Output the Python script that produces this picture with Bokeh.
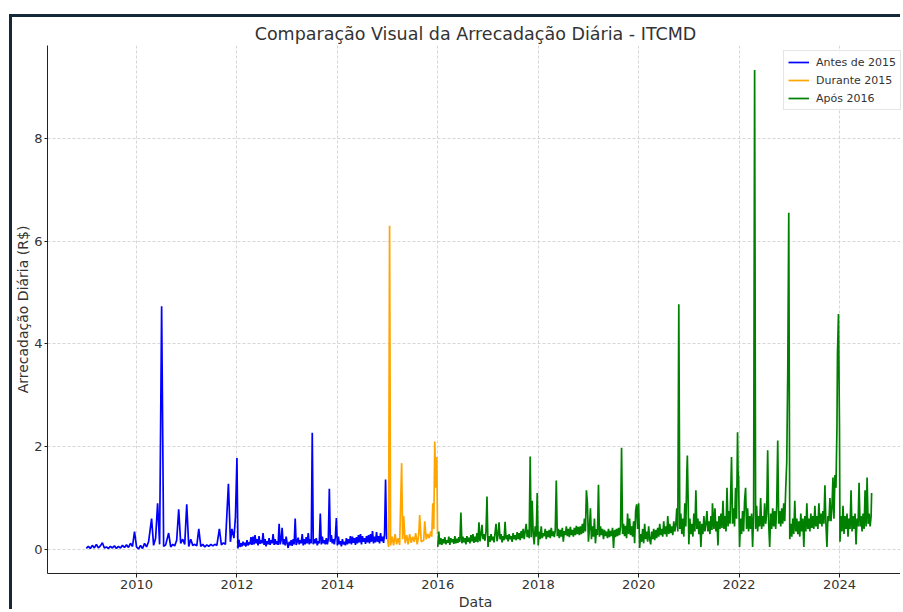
from bokeh.plotting import figure
from bokeh.models import FixedTicker, Label, Legend, LegendItem, Range1d
from bokeh.embed import file_html
from bokeh.resources import INLINE

# ---------------- data (values in R$ millions, dates as decimal years) ----------------
# "Antes de 2015", 2009 - 2011
antes_dates_a = [
    2009.00, 2009.04, 2009.08, 2009.12, 2009.16, 2009.20, 2009.24, 2009.28, 2009.32, 2009.36,
    2009.40, 2009.44, 2009.48, 2009.52, 2009.56, 2009.60, 2009.64, 2009.68, 2009.72, 2009.76,
    2009.80, 2009.84, 2009.88, 2009.92, 2009.96, 2010.00, 2010.04, 2010.08, 2010.12, 2010.16,
    2010.20, 2010.24, 2010.30, 2010.34, 2010.38, 2010.42, 2010.46, 2010.50, 2010.54, 2010.58,
    2010.64, 2010.68, 2010.72, 2010.76, 2010.80, 2010.84, 2010.88, 2010.92, 2010.96, 2011.00,
    2011.04, 2011.08, 2011.12, 2011.16, 2011.20, 2011.24, 2011.28, 2011.32, 2011.36, 2011.40,
    2011.44, 2011.48, 2011.52, 2011.56, 2011.60, 2011.65, 2011.69, 2011.73, 2011.77, 2011.83,
    2011.87, 2011.90, 2011.94, 2011.97,
]
antes_values_a = [
    0.2, 0.6, 0.2, 0.8, 0.3, 1.0, 0.3, 0.7, 1.3, 0.3,
    0.5, 0.2, 0.6, 0.3, 0.7, 0.2, 0.6, 0.3, 0.8, 0.4,
    0.9, 0.4, 1.2, 0.6, 3.5, 0.5, 0.1, 0.8, 0.2, 1.2,
    0.5, 1.5, 6.0, 0.8, 2.2, 9.0, 1.0, 47.3, 0.6, 0.9,
    3.2, 0.5, 1.0, 0.7, 1.8, 7.8, 1.2, 2.0, 1.0, 8.8,
    0.6, 2.0, 0.8, 1.0, 0.7, 4.0, 0.6, 1.0, 0.5, 0.9,
    0.6, 1.0, 0.7, 1.0, 0.8, 4.0, 0.9, 1.3, 1.0, 12.8,
    1.5, 4.0, 2.2, 6.3,
]
# "Antes de 2015", 2012 - 2014, one reading every 0.02 year from 2012.00
antes_start_b, antes_step_b = 2012.0, 0.02
antes_values_b = [
    17.8, 0.2, 1.9, 0.5, 1.2, 0.6, 1.5, 0.8, 1.3, 0.6,
    1.8, 0.8, 1.4, 1.0, 2.4, 0.9, 2.5, 1.0, 2.8, 1.2,
    2.0, 0.8, 2.6, 1.1, 1.8, 1.2, 3.2, 0.9, 2.0, 0.6,
    1.6, 1.0, 2.2, 0.9, 1.8, 1.2, 3.0, 0.9, 2.0, 1.0,
    1.6, 0.9, 5.0, 1.0, 1.8, 4.2, 1.0, 2.0, 0.8, 2.5,
    1.2, 0.3, 1.5, 0.8, 1.8, 0.7, 2.0, 1.0, 6.0, 0.9,
    1.5, 2.3, 1.0, 1.8, 1.2, 3.0, 0.8, 2.0, 1.0, 2.4,
    1.2, 3.2, 1.0, 2.0, 1.2, 22.7, 1.0, 2.0, 1.2, 2.2,
    0.8, 1.6, 1.2, 7.0, 1.0, 2.5, 1.2, 1.8, 1.0, 2.2,
    1.0, 2.0, 11.8, 1.5, 2.8, 1.2, 2.0, 1.0, 2.4, 6.1,
    0.8, 2.5, 1.0, 1.6, 0.6, 2.0, 1.0, 1.5, 0.8, 2.2,
    1.0, 2.0, 1.2, 2.6, 1.0, 2.5, 1.3, 2.2, 0.9, 2.4,
    1.2, 2.8, 1.4, 3.0, 1.0, 2.6, 1.5, 2.2, 1.1, 2.6,
    1.4, 2.8, 1.2, 3.0, 1.5, 3.6, 1.2, 2.5, 1.4, 3.4,
    1.5, 2.6, 1.2, 3.2, 1.6, 2.5, 1.3, 3.0, 13.6, 2.0,
]

durante_dates = [
    2015.00, 2015.02, 2015.04, 2015.06, 2015.09, 2015.12, 2015.15, 2015.18, 2015.21, 2015.24,
    2015.28, 2015.30, 2015.32, 2015.35, 2015.38, 2015.41, 2015.44, 2015.47, 2015.50, 2015.53,
    2015.56, 2015.59, 2015.62, 2015.64, 2015.67, 2015.72, 2015.74, 2015.77, 2015.80, 2015.83,
    2015.86, 2015.88, 2015.90, 2015.92, 2015.94, 2015.96, 2015.98, 2015.995,
]
durante_values = [
    2.0, 0.5, 63.0, 0.8, 2.5, 0.8, 3.0, 1.0, 2.2, 0.9,
    16.8, 2.0, 6.5, 1.2, 2.8, 1.0, 3.0, 1.3, 2.5, 1.5,
    3.2, 1.0, 2.8, 6.7, 1.5, 1.8, 5.5, 2.0, 3.0, 2.2,
    3.5, 2.5, 9.0, 4.0, 21.0, 12.0, 18.0, 3.0,
]

# "Após 2016", 2016 - 2019, one reading every 0.02 year from 2016.00
apos_start_a, apos_step_a = 2016.0, 0.02
apos_values_a = [
    0.5, 3.5, 1.0, 2.2, 0.9, 2.0, 1.2, 2.4, 1.0, 1.8,
    1.3, 2.5, 0.9, 2.2, 1.4, 2.0, 1.1, 2.6, 1.2, 2.1,
    1.3, 2.4, 1.5, 7.2, 1.2, 2.5, 1.4, 2.2, 1.0, 2.6,
    1.5, 2.3, 1.2, 2.8, 1.6, 3.0, 1.3, 2.5, 1.5, 3.2,
    1.4, 5.3, 1.6, 2.8, 4.8, 2.0, 3.0, 1.7, 3.5, 10.3,
    0.5, 2.6, 1.5, 3.0, 1.8, 2.5, 1.4, 3.2, 5.0, 1.6,
    2.8, 5.3, 2.0, 3.0, 1.4, 2.6, 1.8, 5.4, 2.0, 2.8,
    1.6, 3.0, 2.0, 2.6, 1.5, 3.2, 2.0, 2.8, 1.8, 3.4,
    2.0, 3.2, 1.8, 3.6, 2.2, 4.0, 2.0, 3.5, 5.0, 2.4,
    3.8, 2.2, 18.1, 2.4, 9.5, 3.0, 1.0, 4.5, 2.5, 11.0,
    0.8, 3.5, 2.0, 4.5, 2.2, 3.2, 2.6, 4.0, 2.0, 3.6,
    2.4, 3.8, 2.2, 4.2, 2.6, 3.5, 2.4, 3.8, 13.4, 2.6,
    4.0, 2.2, 3.8, 2.5, 4.2, 1.5, 3.6, 2.8, 4.5, 2.6,
    4.0, 2.4, 4.4, 2.8, 3.8, 2.5, 4.2, 2.8, 4.6, 3.0,
    4.4, 2.8, 4.5, 3.0, 5.0, 3.2, 6.0, 3.5, 11.5, 9.0,
    1.5, 4.0, 8.0, 2.0, 4.5, 2.5, 6.0, 1.2, 4.0, 2.8,
    12.6, 2.5, 4.5, 2.8, 4.0, 2.0, 3.8, 2.6, 3.5, 2.2,
    4.0, 2.4, 3.6, 2.6, 4.2, 0.3, 3.8, 2.4, 4.0, 2.6,
    4.2, 2.8, 4.5, 19.8, 3.0, 5.0, 2.6, 4.6, 2.2, 7.0,
    3.0, 6.0, 2.8, 4.5, 2.5, 5.5, 1.2, 7.5, 8.8, 4.0,
]

# "Após 2016", 2020 - 2024
apos_dates_b = [
    2020.00, 2020.02, 2020.04, 2020.06, 2020.08, 2020.10, 2020.12, 2020.14, 2020.16, 2020.18,
    2020.20, 2020.22, 2020.24, 2020.26, 2020.28, 2020.30, 2020.32, 2020.34, 2020.36, 2020.38,
    2020.40, 2020.42, 2020.44, 2020.46, 2020.48, 2020.50, 2020.52, 2020.54, 2020.56, 2020.58,
    2020.60, 2020.62, 2020.64, 2020.66, 2020.68, 2020.70, 2020.72, 2020.74, 2020.76, 2020.78,
    2020.80, 2020.82, 2020.84, 2020.86, 2020.88, 2020.90, 2020.92, 2020.94, 2020.96, 2020.97,
    2020.98, 2021.00,
    2021.02, 2021.04, 2021.06, 2021.08, 2021.10, 2021.12, 2021.14, 2021.16, 2021.18, 2021.20,
    2021.22, 2021.24, 2021.26, 2021.28, 2021.30, 2021.32, 2021.34, 2021.36, 2021.38, 2021.40,
    2021.42, 2021.44, 2021.46, 2021.47, 2021.50, 2021.52, 2021.54, 2021.56, 2021.58, 2021.60,
    2021.62, 2021.64, 2021.66, 2021.68, 2021.70, 2021.72, 2021.74, 2021.76, 2021.78, 2021.80,
    2021.82, 2021.85, 2021.87, 2021.89, 2021.91, 2021.93, 2021.95, 2021.97, 2021.98, 2021.99,
    2022.01, 2022.03, 2022.05, 2022.07, 2022.09, 2022.11, 2022.13, 2022.15, 2022.17, 2022.19,
    2022.21, 2022.23, 2022.25, 2022.27, 2022.29, 2022.31, 2022.33, 2022.35, 2022.37, 2022.39,
    2022.41, 2022.43, 2022.45, 2022.47, 2022.49, 2022.51, 2022.53, 2022.55, 2022.57, 2022.59,
    2022.61, 2022.63, 2022.65, 2022.67, 2022.69, 2022.71, 2022.73, 2022.75, 2022.77, 2022.79,
    2022.81, 2022.83, 2022.85, 2022.87, 2022.89, 2022.91, 2022.93, 2022.95, 2022.97, 2022.99,
    2023.01, 2023.03, 2023.05, 2023.07, 2023.09, 2023.11, 2023.13, 2023.15, 2023.17, 2023.19,
    2023.21, 2023.23, 2023.25, 2023.27, 2023.29, 2023.31, 2023.33, 2023.35, 2023.37, 2023.39,
    2023.41, 2023.43, 2023.45, 2023.47, 2023.49, 2023.51, 2023.53, 2023.55, 2023.57, 2023.59,
    2023.61, 2023.63, 2023.65, 2023.67, 2023.69, 2023.71, 2023.73, 2023.75, 2023.77, 2023.79,
    2023.81, 2023.83, 2023.85, 2023.87, 2023.89, 2023.91, 2023.93, 2023.95, 2023.96, 2023.98,
    2024.00,
    2024.01, 2024.03, 2024.05, 2024.07, 2024.09, 2024.11, 2024.13, 2024.15, 2024.17, 2024.19,
    2024.21, 2024.23, 2024.25, 2024.27, 2024.29, 2024.31, 2024.33, 2024.35, 2024.37, 2024.39,
    2024.41, 2024.43, 2024.45, 2024.47, 2024.49, 2024.51, 2024.53, 2024.55, 2024.57, 2024.59,
    2024.61, 2024.63, 2024.64,
]
apos_values_b = [
    9.0, 0.3, 3.0, 1.5, 4.0, 1.2, 5.0, 2.0, 3.5, 1.5,
    4.5, 2.0, 1.0, 3.5, 2.0, 4.0, 1.8, 3.8, 2.2, 4.2,
    2.5, 5.0, 2.8, 4.0, 2.5, 5.5, 3.0, 4.5, 2.5, 6.5,
    3.0, 5.0, 3.2, 4.5, 2.8, 5.5, 3.5, 4.8, 8.0, 3.5,
    47.7, 4.0, 7.0, 3.0, 6.0, 2.5, 9.0, 4.5, 15.0, 18.3,
    13.0, 1.0,
    6.0, 3.0, 5.0, 2.5, 7.0, 3.5, 11.5, 4.0, 6.0, 3.0,
    5.5, 0.5, 5.0, 3.0, 6.5, 3.5, 5.0, 7.5, 3.5, 5.5,
    3.0, 6.5, 3.8, 9.0, 4.0, 8.0, 3.5, 5.5, 0.8, 6.5,
    4.0, 7.0, 4.2, 9.5, 4.0, 6.5, 3.5, 12.0, 4.5, 7.5,
    5.0, 18.0, 5.0, 8.0, 4.5, 12.0, 6.0, 22.8, 15.0, 14.0,
    0.5, 6.0, 3.0, 7.5, 3.5, 9.5, 12.0, 4.0, 8.0, 3.5,
    6.5, 4.0, 7.0, 0.5, 7.0, 93.3, 4.0, 8.5, 3.5, 6.5,
    4.5, 10.0, 4.0, 6.5, 4.5, 9.0, 5.0, 7.0, 19.3, 5.0,
    0.5, 7.0, 4.0, 8.0, 4.5, 7.5, 4.0, 8.5, 21.2, 5.0,
    7.5, 4.5, 8.0, 5.0, 9.0, 5.5, 12.0, 17.0, 34.6, 65.5,
    2.0, 5.0, 2.5, 6.0, 3.0, 9.5, 3.5, 6.0, 3.0, 5.5,
    2.5, 7.0, 3.5, 6.0, 0.5, 6.5, 3.5, 9.0, 4.0, 6.0,
    3.5, 7.0, 4.2, 6.5, 4.0, 8.5, 4.5, 6.5, 4.0, 9.0,
    5.0, 7.0, 4.5, 7.5, 5.0, 12.5, 5.0, 0.5, 6.5, 5.5,
    10.0, 5.5, 8.0, 14.0, 6.0, 14.5, 12.0, 24.0, 38.0, 45.8,
    24.0,
    1.5, 6.5, 3.5, 8.5, 3.0, 6.5, 4.0, 7.0, 2.5, 6.0,
    4.0, 11.5, 3.5, 6.5, 4.0, 7.0, 1.0, 6.0, 4.5, 13.0,
    4.5, 6.5, 3.5, 7.0, 4.0, 11.5, 4.5, 14.0, 5.0, 7.0,
    4.5, 6.5, 11.0,
]

antes_dates = antes_dates_a + [round(antes_start_b + antes_step_b * i, 3) for i in range(len(antes_values_b))]
antes_values = antes_values_a + antes_values_b
apos_dates = [round(apos_start_a + apos_step_a * i, 3) for i in range(len(apos_values_a))] + apos_dates_b
apos_values = apos_values_a + apos_values_b
assert len(antes_dates_a) == len(antes_values_a)
assert len(durante_dates) == len(durante_values)
assert len(apos_dates_b) == len(apos_values_b)

series_labels = ["Antes de 2015", "Durante 2015", "Após 2016"]
series_colors = ["blue", "orange", "green"]

x_ticks = [2010, 2012, 2014, 2016, 2018, 2020, 2022, 2024]
y_ticks = [0, 20, 40, 60, 80]             # R$ millions
y_tick_labels = ["0", "2", "4", "6", "8"]  # in units of 1e7
offset_text = "1e7"

FONT = "DejaVu Sans"
TXT = "#333333"
W, H = 891, 595

p = figure(
    width=W, height=H,
    output_backend="svg", toolbar_location=None,
    x_range=Range1d(2008.227, 2025.275), y_range=Range1d(-4.67, 98.05),
    title="Comparação Visual da Arrecadação Diária - ITCMD",
)
# dark frame of the original screenshot (top and left edges)
p.margin = (14, 0, 0, 9)
p.styles = {"border-top": "3px solid #15283a", "border-left": "3px solid #15283a"}

p.min_border_top = 28
p.min_border_right = 0
p.min_border_left = 35
p.min_border_bottom = 39
p.outline_line_color = None
p.background_fill_color = "white"

p.title.align = "center"
p.title.text_font = FONT
p.title.text_font_size = "17.5px"
p.title.text_font_style = "normal"
p.title.text_color = TXT
p.title.standoff = 3

renderers = []
for xs, ys, c in [(antes_dates, antes_values, series_colors[0]),
                  (durante_dates, durante_values, series_colors[1]),
                  (apos_dates, apos_values, series_colors[2])]:
    renderers.append(p.line(xs, ys, line_color=c, line_width=1.7))

# axes
for ax in (p.xaxis[0], p.yaxis[0]):
    ax.axis_line_color = "#222222"
    ax.axis_line_width = 1
    ax.major_tick_line_color = "#222222"
    ax.major_tick_out = 4
    ax.major_tick_in = 0
    ax.minor_tick_out = 0
    ax.minor_tick_in = 0
    ax.major_label_text_font = FONT
    ax.major_label_text_font_size = "13px"
    ax.major_label_text_color = TXT
    ax.axis_label_text_font = FONT
    ax.axis_label_text_font_size = "14px"
    ax.axis_label_text_font_style = "normal"
    ax.axis_label_text_color = TXT
    ax.major_label_standoff = 2
    ax.axis_label_standoff = 2

p.yaxis.major_tick_out = 3
p.yaxis.axis_label_standoff = 0

p.xaxis.ticker = FixedTicker(ticks=x_ticks)
p.xaxis.axis_label = "Data"
p.yaxis.ticker = FixedTicker(ticks=y_ticks)
p.yaxis.major_label_overrides = {t: l for t, l in zip(y_ticks, y_tick_labels)}
p.yaxis.axis_label = "Arrecadação Diária (R$)"

p.xgrid.ticker = FixedTicker(ticks=x_ticks)
p.ygrid.ticker = FixedTicker(ticks=y_ticks)
for g in (p.xgrid[0], p.ygrid[0]):
    g.grid_line_color = "#cccccc"
    g.grid_line_dash = "3 2"
    g.grid_line_width = 0.8

p.add_layout(Label(x=2008.227, y=98.05, text=offset_text, y_offset=2,
                   text_font=FONT, text_font_size="12.5px", text_color=TXT,
                   text_baseline="bottom", text_align="left"))

# legend: bottom-left corner given in screen px relative to the plot frame
legend = Legend(items=[LegendItem(label=l, renderers=[r]) for l, r in zip(series_labels, renderers)],
                location=(736, 463))
legend.label_text_font = FONT
legend.label_text_font_size = "11px"
legend.label_text_color = TXT
legend.label_height = 14
legend.glyph_height = 14
legend.glyph_width = 21
legend.label_standoff = 7
legend.spacing = 4
legend.padding = 4
legend.margin = 0
legend.border_line_color = "#cccccc"
legend.background_fill_alpha = 0.85
p.add_layout(legend)

open("out.html", "w").write(file_html(p, INLINE))
